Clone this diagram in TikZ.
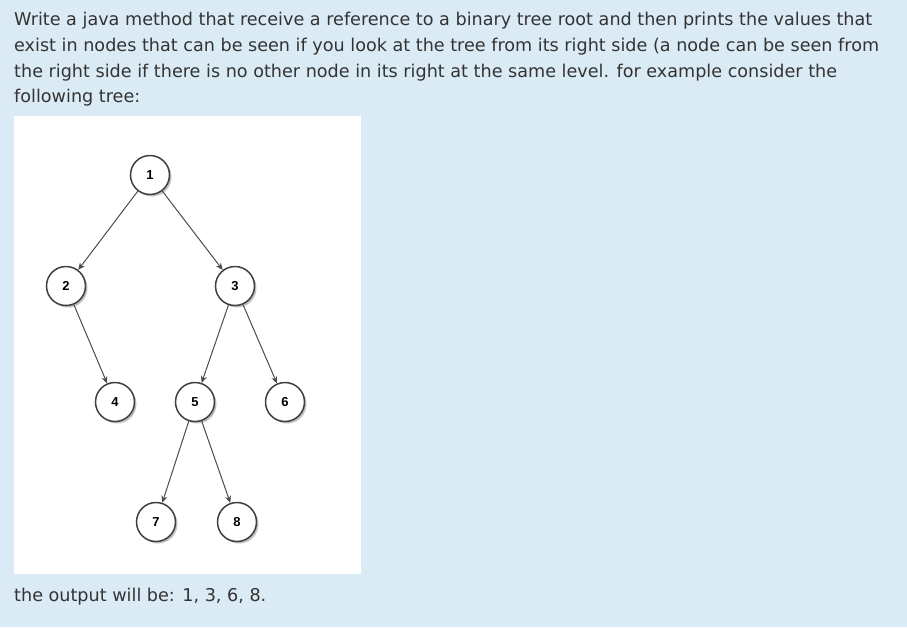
\documentclass[tikz,border=0pt]{standalone}
\usepackage{fontspec}
\setmainfont{DejaVu Sans}
\newfontfamily\nodef{Liberation Sans}
\usetikzlibrary{shadows,arrows.meta}
\definecolor{bgblue}{HTML}{DAEBF5}
\definecolor{txt}{HTML}{333333}
\tikzset{
  tnode/.style={circle,draw=black!75,line width=1.5pt,fill=white,minimum size=39pt,inner sep=0pt,
    font=\nodef\bfseries\fontsize{13pt}{13pt}\selectfont,
    drop shadow={shadow xshift=2pt,shadow yshift=-2pt,fill=black!40,opacity=0.6}},
  edge/.style={draw=black!70,line width=1pt,-{Stealth[length=7pt,width=6pt]}},
  para/.style={anchor=base west,font=\fontsize{17.6pt}{20pt}\selectfont,text=txt,inner sep=0pt}
}
\begin{document}
\begin{tikzpicture}[x=1pt,y=-1pt]
\fill[bgblue] (0,0) rectangle (907,627);
\useasboundingbox (0,0) rectangle (907,627);
\fill[white] (14,116) rectangle (361,574);
\node[para] (l1) at (14,25) {Write a java method that receive a reference to a binary tree root and then prints the values that};
\node[para] (l2) at (14,51) {exist in nodes that can be seen if you look at the tree from its right side (a node can be seen from};
\node[para] (l3) at (14,77) {the right side if there is no other node in its right at the same level. for example consider the};
\node[para] (l4) at (14,102) {following tree:};
\node[para] (l5) at (14,601) {the output will be: 1, 3, 6, 8.};
\node[tnode] (n1) at (150,175) {1};
\node[tnode] (n2) at (66,286) {2};
\node[tnode] (n3) at (235,286) {3};
\node[tnode] (n4) at (115,402) {4};
\node[tnode] (n5) at (195,402) {5};
\node[tnode] (n6) at (285,402) {6};
\node[tnode] (n7) at (156,522) {7};
\node[tnode] (n8) at (237,522) {8};
\draw[edge] (n1) -- (n2);
\draw[edge] (n1) -- (n3);
\draw[edge] (n2) -- (n4);
\draw[edge] (n3) -- (n5);
\draw[edge] (n3) -- (n6);
\draw[edge] (n5) -- (n7);
\draw[edge] (n5) -- (n8);
\end{tikzpicture}
\end{document}
